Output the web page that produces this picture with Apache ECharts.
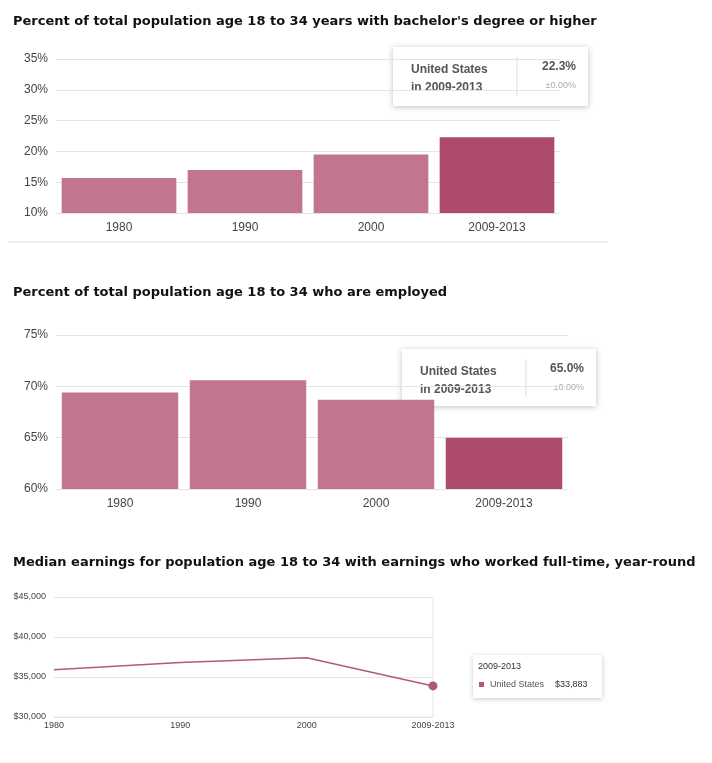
<!DOCTYPE html>
<html>
<head>
    <meta charset="utf-8">
    <title>Population age 18 to 34</title>
    <script src="https://cdn.jsdelivr.net/npm/echarts@6/dist/echarts.min.js"></script>
    <style>body{margin:0;background:#fff}</style>
</head>
<body>
    <div id="main" style="width:712px;height:763px;"></div>
    <script type="text/javascript">
    var years = ['1980', '1990', '2000', '2009-2013'];
    var degreePct = [15.7, 17.0, 19.5, 22.3];
    var employedPct = [69.4, 70.6, 68.7, 65.0];
    var earnings = [35900, 36800, 37400, 33883];

    var barColor = '#c27590', lastColor = '#ad4a6d', lineColor = '#b05a78';
    var font = 'Arial, "Liberation Sans", sans-serif';

    function barData(vals) {
        return vals.map(function (v, i) {
            return {value: v, itemStyle: {color: i === vals.length - 1 ? lastColor : barColor}};
        });
    }

    var myChart = echarts.init(document.getElementById('main'));

    // 悬浮提示框（静态）
    function tipBox(x, y, w, h, place, val) {
        return [
            {type: 'rect', shape: {x: x, y: y, width: w, height: h},
             style: {fill: '#fff', shadowBlur: 6, shadowColor: 'rgba(0,0,0,0.25)', shadowOffsetY: 1}},
            {type: 'text', x: x + 18, y: y + 14, style: {text: 'United States\nin ' + place, font: 'bold 12px ' + font, fill: '#555', lineHeight: 18}},
            {type: 'line', shape: {x1: x + 124, y1: y + 10, x2: x + 124, y2: y + h - 10}, style: {stroke: '#ddd'}},
            {type: 'text', x: x + w - 12, y: y + 14, style: {text: val, font: 'bold 12px ' + font, fill: '#555', align: 'right'}},
            {type: 'text', x: x + w - 12, y: y + 34, style: {text: '±0.00%', font: '9px ' + font, fill: '#aaa', align: 'right'}}
        ];
    }

    var yLbl = {color: '#444', fontSize: 12, fontFamily: font};
    var split = {lineStyle: {color: '#e4e4e4'}};

    var option = {
        animation: false,
        title: [
            {text: "Percent of total population age 18 to 34 years with bachelor's degree or higher", left: 8, top: 10,
             textStyle: {fontSize: 13, fontWeight: 'bold', color: '#111', fontFamily: 'Verdana, "DejaVu Sans", sans-serif'}},
            {text: 'Percent of total population age 18 to 34 who are employed', left: 8, top: 281,
             textStyle: {fontSize: 13, fontWeight: 'bold', color: '#111', fontFamily: 'Verdana, "DejaVu Sans", sans-serif'}},
            {text: 'Median earnings for population age 18 to 34 with earnings who worked full-time, year-round', left: 8, top: 551,
             textStyle: {fontSize: 13, fontWeight: 'bold', color: '#111', fontFamily: 'Verdana, "DejaVu Sans", sans-serif'}}
        ],
        grid: [
            {left: 56, top: 59, width: 504, height: 154},
            {left: 56, top: 335, width: 512, height: 154},
            {left: 54, top: 597, width: 379, height: 120}
        ],
        xAxis: [
            {type: 'category', gridIndex: 0, data: years, axisLine: {show: false}, axisTick: {show: false},
             axisLabel: {color: '#444', fontSize: 12, fontFamily: font, margin: 9}},
            {type: 'category', gridIndex: 1, data: years, axisLine: {lineStyle: {color: '#e4e4e4'}}, axisTick: {show: false},
             axisLabel: {color: '#444', fontSize: 12, fontFamily: font, margin: 9}},
            {type: 'category', gridIndex: 2, data: years, boundaryGap: false, axisLine: {show: false}, axisTick: {show: false},
             axisLabel: {color: '#444', fontSize: 9, fontFamily: font, margin: 4}}
        ],
        yAxis: [
            {type: 'value', gridIndex: 0, min: 10, max: 35, interval: 5, axisLabel: Object.assign({formatter: '{value}%'}, yLbl), splitLine: split},
            {type: 'value', gridIndex: 1, min: 60, max: 75, interval: 5, axisLabel: Object.assign({formatter: '{value}%'}, yLbl), splitLine: split},
            {type: 'value', gridIndex: 2, min: 30000, max: 45000, interval: 5000,
             axisLabel: {color: '#444', fontSize: 9, fontFamily: font,
                 formatter: function (v) { return '$' + v.toLocaleString('en-US'); }}, splitLine: split}
        ],
        series: [
            {type: 'bar', xAxisIndex: 0, yAxisIndex: 0, data: barData(degreePct), barCategoryGap: '9%'},
            {type: 'bar', xAxisIndex: 1, yAxisIndex: 1, data: barData(employedPct), barCategoryGap: '9%'},
            {type: 'line', xAxisIndex: 2, yAxisIndex: 2, data: earnings, lineStyle: {color: lineColor, width: 1.5},
             symbol: 'circle', symbolSize: function (v, p) { return p.dataIndex === earnings.length - 1 ? 9 : 0; },
             itemStyle: {color: lineColor}}
        ],
        graphic: [
            {type: 'line', shape: {x1: 8, y1: 242, x2: 608, y2: 242}, style: {stroke: '#e0e0e0'}},
            {type: 'line', shape: {x1: 433, y1: 597, x2: 433, y2: 717}, style: {stroke: '#e4e4e4'}},
            {type: 'line', shape: {x1: 54, y1: 717, x2: 433, y2: 717}, style: {stroke: '#e4e4e4'}}
        ]
            .concat(tipBox(393, 47, 195, 59, years[3], degreePct[3].toFixed(1) + '%'))
            .concat(tipBox(402, 349, 194, 57, years[3], employedPct[3].toFixed(1) + '%'))
            .concat([
                {type: 'rect', shape: {x: 473, y: 655, width: 129, height: 43},
                 style: {fill: '#fff', shadowBlur: 5, shadowColor: 'rgba(0,0,0,0.22)', shadowOffsetY: 1}},
                {type: 'text', x: 478, y: 662, style: {text: years[3], font: '9px ' + font, fill: '#333'}},
                {type: 'rect', shape: {x: 479, y: 682, width: 5, height: 5}, style: {fill: lineColor}},
                {type: 'text', x: 490, y: 680, style: {text: 'United States', font: '9px ' + font, fill: '#555'}},
                {type: 'text', x: 555, y: 680, style: {text: '$' + earnings[3].toLocaleString('en-US'), font: '9px ' + font, fill: '#333'}}
            ])
    };

    myChart.setOption(option);
    </script>
</body>
</html>
